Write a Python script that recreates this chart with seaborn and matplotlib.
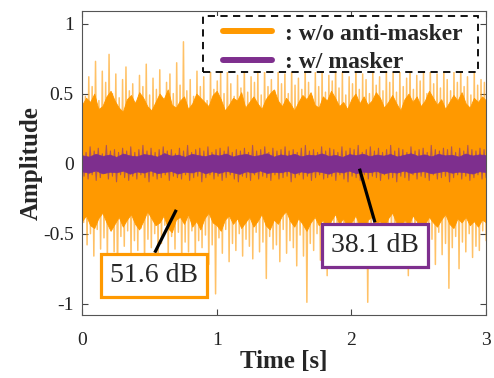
import numpy as np
import pandas as pd
import seaborn as sns
import matplotlib
matplotlib.use("Agg")
import matplotlib.pyplot as plt
from matplotlib.lines import Line2D
from matplotlib.patches import Rectangle

# ---------------- data ----------------
t_start, t_end = 0.0, 3.0

# spike tips of the un-masked signal (upper / lower)
orange_top = [0.70, 0.48, 0.62, 0.55, 0.73, 0.45, 0.66, 0.58, 0.78, 0.50,
              0.64, 0.47, 0.60, 0.69, 0.52, 0.57, 0.44, 0.63, 0.55, 0.71,
              0.49, 0.61, 0.53, 0.67, 0.46, 0.58, 0.64, 0.50, 0.72, 0.56,
              0.87, 0.52, 0.60, 0.48, 0.66, 0.55, 0.62, 0.45, 0.69, 0.53,
              0.59, 0.65, 0.50, 0.68, 0.57, 0.48, 0.63, 0.54, 0.70, 0.51,
              0.62, 0.58, 0.66, 0.49, 0.71, 0.55, 0.60, 0.52, 0.67, 0.57,
              0.64, 0.50, 0.69, 0.56, 0.61, 0.53, 0.72, 0.58, 0.48, 0.65,
              0.55, 0.68, 0.51, 0.63, 0.59, 0.70, 0.54, 0.66, 0.49, 0.62,
              0.57, 0.71, 0.53, 0.64, 0.60, 0.50, 0.68, 0.56, 0.62, 0.52,
              0.69, 0.58, 0.65, 0.51, 0.67, 0.55, 0.61, 0.73, 0.53, 0.63,
              0.59, 0.66, 0.50, 0.70, 0.57, 0.64, 0.54, 0.68, 0.60, 0.52,
              0.65, 0.58, 0.71, 0.55, 0.62, 0.49, 0.67, 0.56, 0.60, 0.58]
orange_bottom = [-0.42, -0.58, -0.50, -0.66, -0.47, -0.61, -0.53, -0.70, -0.45, -0.63,
                 -0.81, -0.52, -0.59, -0.48, -0.67, -0.55, -0.62, -0.46, -0.71, -0.54,
                 -0.60, -0.50, -0.65, -0.57, -0.44, -0.68, -0.52, -0.61, -0.49, -0.74,
                 -0.56, -0.63, -0.48, -0.69, -0.55, -0.60, -0.51, -0.72, -0.58, -0.93,
                 -0.53, -0.64, -0.47, -0.70, -0.57, -0.62, -0.50, -0.66, -0.54, -0.59,
                 -0.68, -0.49, -0.63, -0.56, -0.82, -0.52, -0.61, -0.58, -0.70, -0.47,
                 -0.64, -0.55, -0.60, -0.73, -0.51, -0.66, -0.99, -0.57, -0.62, -0.50,
                 -0.69, -0.54, -0.80, -0.59, -0.48, -0.65, -0.56, -0.71, -0.52, -0.63,
                 -0.58, -0.67, -0.50, -0.61, -0.99, -0.55, -0.64, -0.49, -0.70, -0.57,
                 -0.62, -0.53, -0.68, -0.60, -0.46, -0.66, -0.80, -0.55, -0.63, -0.51,
                 -0.69, -0.58, -0.61, -0.54, -0.72, -0.49, -0.65, -0.57, -0.89, -0.60,
                 -0.52, -0.75, -0.56, -0.63, -0.50, -0.67, -0.59, -0.62, -0.48, -0.55]
# edges of the dense (solid) part of the un-masked signal
orange_core_top = [0.42, 0.47, 0.44, 0.50, 0.39, 0.41, 0.48, 0.52, 0.45, 0.40,
                   0.37, 0.46, 0.49, 0.43, 0.51, 0.47, 0.41, 0.38, 0.44, 0.50,
                   0.46, 0.53, 0.42, 0.40, 0.45, 0.48, 0.39, 0.43, 0.50, 0.47,
                   0.44, 0.41, 0.49, 0.52, 0.46, 0.38, 0.42, 0.47, 0.45, 0.51,
                   0.40, 0.44, 0.48, 0.43, 0.39, 0.46, 0.50, 0.53, 0.45, 0.41,
                   0.47, 0.43, 0.38, 0.44, 0.49, 0.46, 0.51, 0.42, 0.40, 0.48,
                   0.45, 0.52, 0.47, 0.41, 0.44, 0.39, 0.46, 0.50, 0.43, 0.48,
                   0.42, 0.45, 0.51, 0.47, 0.40, 0.44, 0.49, 0.43, 0.38, 0.46,
                   0.50, 0.44, 0.48, 0.41, 0.45, 0.52, 0.47, 0.42, 0.46, 0.39,
                   0.44, 0.49, 0.45, 0.51, 0.43, 0.40, 0.47, 0.44, 0.48, 0.45]
orange_core_bottom = [-0.41, -0.37, -0.44, -0.46, -0.39, -0.35, -0.42, -0.48, -0.43, -0.38,
                      -0.45, -0.40, -0.36, -0.43, -0.47, -0.41, -0.34, -0.39, -0.44, -0.42,
                      -0.37, -0.46, -0.49, -0.40, -0.38, -0.43, -0.36, -0.45, -0.41, -0.47,
                      -0.39, -0.35, -0.42, -0.44, -0.48, -0.40, -0.37, -0.43, -0.39, -0.46,
                      -0.42, -0.38, -0.45, -0.41, -0.36, -0.44, -0.47, -0.40, -0.43, -0.37,
                      -0.34, -0.41, -0.45, -0.39, -0.43, -0.48, -0.42, -0.38, -0.44, -0.40,
                      -0.46, -0.41, -0.36, -0.43, -0.39, -0.45, -0.42, -0.37, -0.44, -0.47,
                      -0.40, -0.38, -0.43, -0.41, -0.46, -0.39, -0.35, -0.42, -0.45, -0.40,
                      -0.44, -0.37, -0.41, -0.47, -0.43, -0.38, -0.42, -0.45, -0.40, -0.36,
                      -0.43, -0.46, -0.39, -0.42, -0.38, -0.44, -0.41, -0.45, -0.40, -0.42]

# masked signal
purple_top = [0.10, 0.08, 0.12, 0.09, 0.11, 0.07, 0.13, 0.09, 0.10, 0.08,
              0.11, 0.09, 0.12, 0.08, 0.10, 0.13, 0.09, 0.11, 0.08, 0.10,
              0.12, 0.09, 0.10, 0.07, 0.11, 0.09, 0.13, 0.08, 0.10, 0.11,
              0.09, 0.12, 0.08, 0.10, 0.11, 0.09, 0.12, 0.08, 0.10, 0.09,
              0.11, 0.08, 0.13, 0.09, 0.10, 0.12, 0.08, 0.11, 0.09, 0.10,
              0.12, 0.09, 0.10, 0.08, 0.11, 0.13, 0.09, 0.10, 0.08, 0.12,
              0.09, 0.11, 0.10, 0.08, 0.12, 0.09, 0.11, 0.10, 0.13, 0.08,
              0.10, 0.12, 0.09, 0.11, 0.08, 0.10, 0.13, 0.09, 0.11, 0.10,
              0.08, 0.12, 0.09, 0.10, 0.11, 0.08, 0.13, 0.10, 0.09, 0.11,
              0.10, 0.12, 0.08, 0.11, 0.09, 0.13, 0.10, 0.09, 0.11, 0.10]
purple_bottom = [-0.09, -0.11, -0.08, -0.12, -0.10, -0.07, -0.11, -0.09, -0.13, -0.08,
                 -0.10, -0.12, -0.09, -0.11, -0.08, -0.10, -0.13, -0.09, -0.11, -0.10,
                 -0.08, -0.12, -0.09, -0.10, -0.11, -0.08, -0.12, -0.10, -0.09, -0.13,
                 -0.10, -0.08, -0.11, -0.09, -0.12, -0.10, -0.08, -0.11, -0.13, -0.09,
                 -0.10, -0.12, -0.08, -0.11, -0.09, -0.10, -0.12, -0.08, -0.11, -0.10,
                 -0.09, -0.13, -0.10, -0.08, -0.11, -0.09, -0.12, -0.10, -0.08, -0.11,
                 -0.10, -0.09, -0.12, -0.08, -0.11, -0.13, -0.09, -0.10, -0.12, -0.08,
                 -0.11, -0.09, -0.10, -0.12, -0.08, -0.11, -0.10, -0.13, -0.09, -0.10,
                 -0.12, -0.08, -0.11, -0.09, -0.10, -0.12, -0.08, -0.11, -0.10, -0.09,
                 -0.13, -0.10, -0.08, -0.11, -0.09, -0.12, -0.10, -0.08, -0.11, -0.10]
purple_core_top = [0.060, 0.050, 0.070, 0.055, 0.065, 0.048, 0.072, 0.058, 0.052, 0.068,
                   0.062, 0.050, 0.075, 0.056, 0.064, 0.049, 0.070, 0.060, 0.053, 0.067,
                   0.058, 0.072, 0.051, 0.063, 0.069, 0.054, 0.061, 0.074, 0.050, 0.066,
                   0.057, 0.070, 0.052, 0.064, 0.059, 0.073, 0.055, 0.062, 0.048, 0.068,
                   0.060, 0.071, 0.053, 0.065, 0.057, 0.069, 0.051, 0.063, 0.074, 0.056,
                   0.066, 0.052, 0.070, 0.059, 0.063, 0.050, 0.072, 0.058, 0.066, 0.061]
purple_core_bottom = [-0.055, -0.065, -0.048, -0.070, -0.058, -0.062, -0.050, -0.072, -0.056, -0.064,
                      -0.049, -0.068, -0.060, -0.053, -0.071, -0.057, -0.063, -0.050, -0.069, -0.055,
                      -0.066, -0.052, -0.061, -0.073, -0.054, -0.064, -0.049, -0.067, -0.058, -0.062,
                      -0.051, -0.070, -0.056, -0.065, -0.053, -0.060, -0.072, -0.055, -0.063, -0.050,
                      -0.068, -0.057, -0.061, -0.052, -0.070, -0.059, -0.064, -0.049, -0.066, -0.058,
                      -0.054, -0.069, -0.060, -0.051, -0.065, -0.057, -0.062, -0.071, -0.055, -0.060]

legend_labels = [": w/o anti-masker", ": w/ masker"]
level_labels = ["51.6 dB", "38.1 dB"]
x_ticks = [0, 1, 2, 3]
y_ticks = [-1, -0.5, 0, 0.5, 1]
y_ticklabels = ["-1", "-0.5", "0", "0.5", "1"]

ORANGE = "#FF9900"
PURPLE = "#7E2F8E"


def zigzag(top, bottom):
    vals = np.empty(len(top) + len(bottom))
    vals[0::2] = top
    vals[1::2] = bottom
    t = np.linspace(t_start, t_end, len(vals))
    return pd.DataFrame({"t": t, "v": vals})


# ---------------- figure ----------------
sns.set_style("white")
plt.rcParams["font.family"] = ["Liberation Serif", "DejaVu Serif"]

fig = plt.figure(figsize=(4.94, 3.78), dpi=100)
ax = fig.add_axes([0.166, 0.167, 0.818, 0.804])

core_t = np.linspace(t_start, t_end, len(orange_core_top))
pcore_t = np.linspace(t_start, t_end, len(purple_core_top))

# orange (w/o anti-masker)
sns.lineplot(data=zigzag(orange_top, orange_bottom), x="t", y="v", ax=ax,
             color=ORANGE, lw=1.1, alpha=0.6, estimator=None, sort=False, zorder=1)
ax.fill_between(core_t, orange_core_bottom, orange_core_top, color=ORANGE, lw=0.6,
                edgecolor=ORANGE, zorder=1.5)

# purple (w/ masker)
sns.lineplot(data=zigzag(purple_top, purple_bottom), x="t", y="v", ax=ax,
             color=PURPLE, lw=0.8, alpha=0.65, estimator=None, sort=False, zorder=2)
ax.fill_between(pcore_t, purple_core_bottom, purple_core_top, color=PURPLE, lw=0.5,
                edgecolor=PURPLE, zorder=2.5)

# annotations
ax.plot([0.54, 0.70], [-0.636, -0.33], color="black", lw=2.3, zorder=4, solid_capstyle="butt")
ax.plot([2.175, 2.06], [-0.42, -0.036], color="black", lw=2.3, zorder=4, solid_capstyle="butt")
ax.text(0.535, -0.80, level_labels[0], fontsize=20, ha="center", va="center", zorder=5,
        bbox=dict(boxstyle="square,pad=0.33", fc="white", ec=ORANGE, lw=2.3))
ax.text(2.175, -0.586, level_labels[1], fontsize=20, ha="center", va="center", zorder=5,
        bbox=dict(boxstyle="square,pad=0.33", fc="white", ec=PURPLE, lw=2.3))

# axes styling
ax.set_xlim(0, 3)
ax.set_ylim(-1.08, 1.09)
ax.set_xticks(x_ticks)
ax.set_xticklabels([str(v) for v in x_ticks])
ax.set_yticks(y_ticks)
ax.set_yticklabels(y_ticklabels)
ax.tick_params(direction="in", length=4, width=0.8, color="#444444", labelsize=14,
               top=True, right=True, bottom=True, left=True, labelcolor="#222222")
ax.tick_params(axis="x", pad=12)
ax.tick_params(axis="y", pad=6)
for s in ax.spines.values():
    s.set_visible(True)
    s.set_color("#555555")
    s.set_linewidth(0.8)

ax.set_xlabel("Time [s]", fontsize=18, fontweight="bold", labelpad=1)
ax.set_ylabel("Amplitude", fontsize=18, fontweight="bold", labelpad=0)

# legend: dashed frame drawn as its own box, entries without a frame
ax.add_patch(Rectangle((0.2995, 0.799), 0.6805, 0.185, transform=ax.transAxes,
                       facecolor="white", edgecolor="black", lw=1.3,
                       linestyle=(0, (4, 3)), zorder=5.9, clip_on=False))
handles = [Line2D([0], [0], color=ORANGE, lw=4.3),
           Line2D([0], [0], color=PURPLE, lw=4.3)]
leg = ax.legend(handles, legend_labels, loc="upper left", bbox_to_anchor=(0.349, 0.96),
                prop=dict(family="Liberation Serif", weight="bold", size=17),
                frameon=False, handlelength=2.08, handletextpad=0.55, borderpad=0,
                labelspacing=0.3, borderaxespad=0)
leg.set_zorder(6)

fig.savefig("out.png", dpi=100)
